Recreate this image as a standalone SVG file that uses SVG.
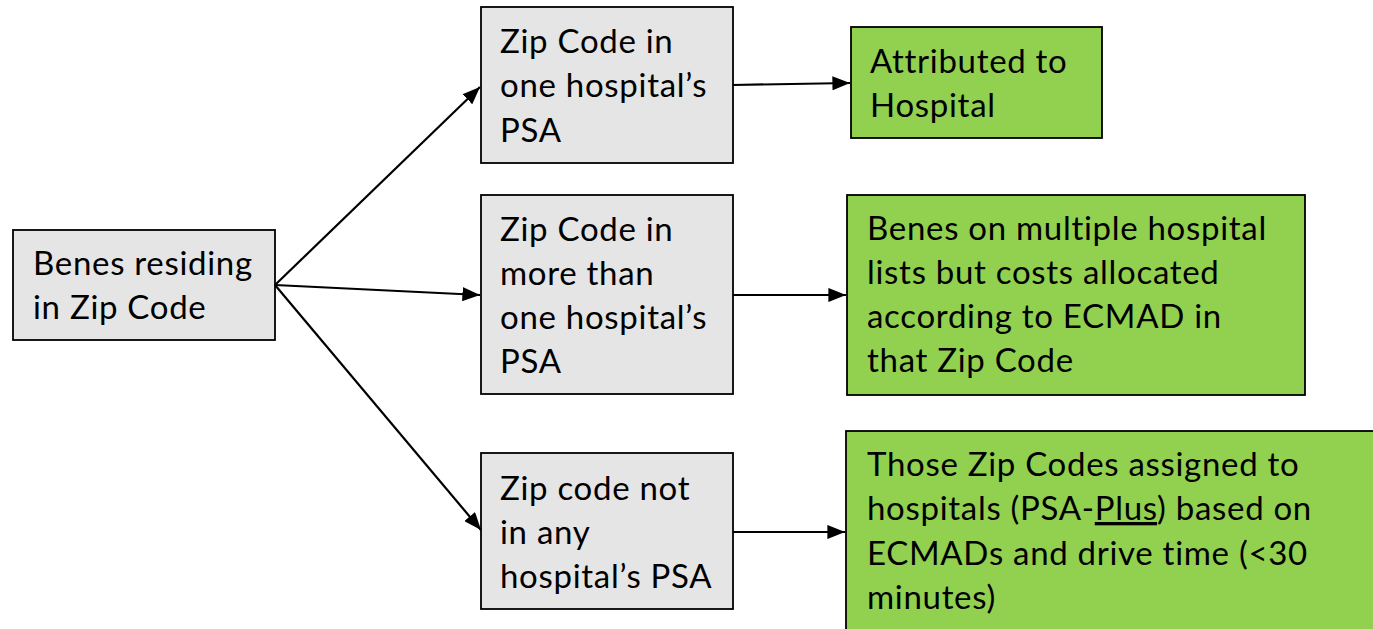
<svg xmlns="http://www.w3.org/2000/svg" width="1373" height="629" viewBox="0 0 1373 629">
<style>
.gray{fill:#e5e5e5;stroke:#000;stroke-width:1.8}
.green{fill:#92d050;stroke:#000;stroke-width:1.8}
text{font-family:Lato,"Open Sans","Liberation Sans",sans-serif;font-size:33px;letter-spacing:0.7px;fill:#000}
.conn line{stroke:#000;stroke-width:2.2}
</style>
<defs>
<marker id="arr" markerWidth="8" markerHeight="6.4" refX="8" refY="3.2" orient="auto" markerUnits="strokeWidth">
<path d="M0,0 L8,3.2 L0,6.4 z" fill="#000"/>
</marker>
</defs>
<rect width="1373" height="629" fill="#fff"/>
<g id="benes">
<rect class="gray" x="13" y="230" width="262" height="110"/>
<text x="33" y="275">Benes residing</text>
<text x="33" y="319">in Zip Code</text>
</g>
<g id="zip-one">
<rect class="gray" x="481" y="7" width="252" height="156"/>
<text x="500" y="53">Zip Code in</text>
<text x="500" y="97">one hospital’s</text>
<text x="500" y="142">PSA</text>
</g>
<g id="zip-multi">
<rect class="gray" x="481" y="195" width="252" height="199"/>
<text x="500" y="241">Zip Code in</text>
<text x="500" y="285">more than</text>
<text x="500" y="329">one hospital’s</text>
<text x="500" y="373">PSA</text>
</g>
<g id="zip-none">
<rect class="gray" x="481" y="453" width="252" height="156"/>
<text x="500" y="500">Zip code not</text>
<text x="500" y="544">in any</text>
<text x="500" y="588">hospital’s PSA</text>
</g>
<g id="attributed">
<rect class="green" x="851" y="27" width="251" height="111"/>
<text x="870" y="73">Attributed to</text>
<text x="870" y="117">Hospital</text>
</g>
<g id="multiple">
<rect class="green" x="847" y="195" width="458" height="200"/>
<text x="867" y="240">Benes on multiple hospital</text>
<text x="867" y="284">lists but costs allocated</text>
<text x="867" y="328">according to ECMAD in</text>
<text x="867" y="372">that Zip Code</text>
</g>
<g id="psa-plus">
<rect class="green" x="846" y="431" width="540" height="220"/>
<text x="867" y="476">Those Zip Codes assigned to</text>
<text x="867" y="520">hospitals (PSA-<tspan text-decoration="underline">Plus</tspan>) based on</text>
<text x="867" y="565">ECMADs and drive time (&lt;30</text>
<text x="867" y="609">minutes)</text>
</g>
<g class="conn" id="connectors">
<line x1="275" y1="285" x2="480" y2="87" marker-end="url(#arr)"/>
<line x1="275" y1="285" x2="480" y2="295" marker-end="url(#arr)"/>
<line x1="275" y1="285" x2="481" y2="530" marker-end="url(#arr)"/>
<line x1="733" y1="85" x2="850" y2="83" marker-end="url(#arr)"/>
<line x1="733" y1="295" x2="846" y2="295" marker-end="url(#arr)"/>
<line x1="733" y1="532" x2="845" y2="532" marker-end="url(#arr)"/>
</g>
</svg>
